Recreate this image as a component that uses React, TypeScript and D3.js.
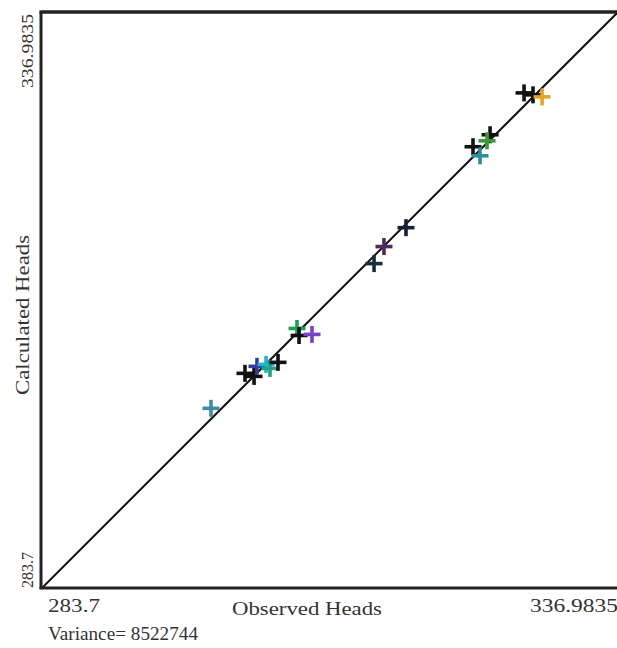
import React from "react";
import * as d3 from "d3";

const DOMAIN_MIN = 283.7;
const DOMAIN_MAX = 336.9835;
const xTickLabels = ["283.7", "336.9835"];
const yTickLabels = ["283.7", "336.9835"];
const xTitle = "Observed Heads";
const yTitle = "Calculated Heads";
const varianceText = "Variance= 8522744";

const observed = [
  299.36, 302.51, 303.35, 303.62, 304.46, 304.83, 305.57, 307.33, 307.52, 308.72,
  314.47, 315.39, 317.43, 323.64, 324.29, 325.22, 324.94, 328.37, 329.2, 330.04,
];
const calculated = [
  300.35, 303.59, 303.31, 304.24, 304.42, 304.05, 304.61, 307.75, 307.1, 307.2,
  313.76, 315.34, 317.09, 324.59, 323.75, 325.7, 325.14, 329.58, 329.4, 329.21,
];
const pointColors = [
  "#3f8aa6", "#111111", "#111111", "#3a3a9a", "#22b4cc", "#1fa286", "#111111", "#1fa050", "#111111", "#7444c4",
  "#16303a", "#4a2c5c", "#1c1c38", "#111111", "#2a8ea0", "#111111", "#3a9a3a", "#111111", "#111111", "#e3a428",
];

const W = 617;
const H = 648;
const left = 42;
const right = 617;
const top = 13;
const bottom = 588;

export default function App() {
  const x = d3.scaleLinear().domain([DOMAIN_MIN, DOMAIN_MAX]).range([left, right]);
  const y = d3.scaleLinear().domain([DOMAIN_MIN, DOMAIN_MAX]).range([bottom, top]);
  const line = d3.line<number>().x((d) => x(d)).y((d) => y(d));
  const arm = 8.5;
  const order = d3.range(observed.length);
  return (
    <div style={{ position: "absolute", left: 0, top: 0 }}>
      <svg width={W} height={H} style={{ display: "block", background: "#fff" }}>
        <path d={line([DOMAIN_MIN, DOMAIN_MAX]) || ""} stroke="#111" strokeWidth={2} fill="none" />
        {order.map((i) => {
          const cx = x(observed[i]);
          const cy = y(calculated[i]);
          return (
            <g key={i} stroke={pointColors[i]} strokeWidth={3.6}>
              <line x1={cx - arm} x2={cx + arm} y1={cy} y2={cy} />
              <line x1={cx} x2={cx} y1={cy - arm} y2={cy + arm} />
            </g>
          );
        })}
        <line x1={left - 1} x2={left - 1} y1={top - 1.5} y2={bottom + 1} stroke="#222" strokeWidth={3} />
        <line x1={left - 2.5} x2={W} y1={top - 1} y2={top - 1} stroke="#222" strokeWidth={3.5} />
        <line x1={left - 2.5} x2={W} y1={bottom} y2={bottom} stroke="#222" strokeWidth={3} />
        <g fontFamily="'Times New Roman', 'Liberation Serif', serif" fill="#333" fontSize={18}>
          <text x={48} y={612} textLength={52} lengthAdjust="spacingAndGlyphs">{xTickLabels[0]}</text>
          <text x={530} y={612} textLength={88} lengthAdjust="spacingAndGlyphs">{xTickLabels[1]}</text>
          <text x={232} y={615} textLength={150} lengthAdjust="spacingAndGlyphs">{xTitle}</text>
          <text x={48} y={640} textLength={150} lengthAdjust="spacingAndGlyphs">{varianceText}</text>
          <text transform={`translate(33,588) rotate(-90)`} textLength={36} lengthAdjust="spacingAndGlyphs" fontSize={16}>{yTickLabels[0]}</text>
          <text transform={`translate(33,88) rotate(-90)`} textLength={74} lengthAdjust="spacingAndGlyphs" fontSize={16}>{yTickLabels[1]}</text>
          <text transform={`translate(29,395) rotate(-90)`} textLength={160} lengthAdjust="spacingAndGlyphs">{yTitle}</text>
        </g>
      </svg>
    </div>
  );
}
